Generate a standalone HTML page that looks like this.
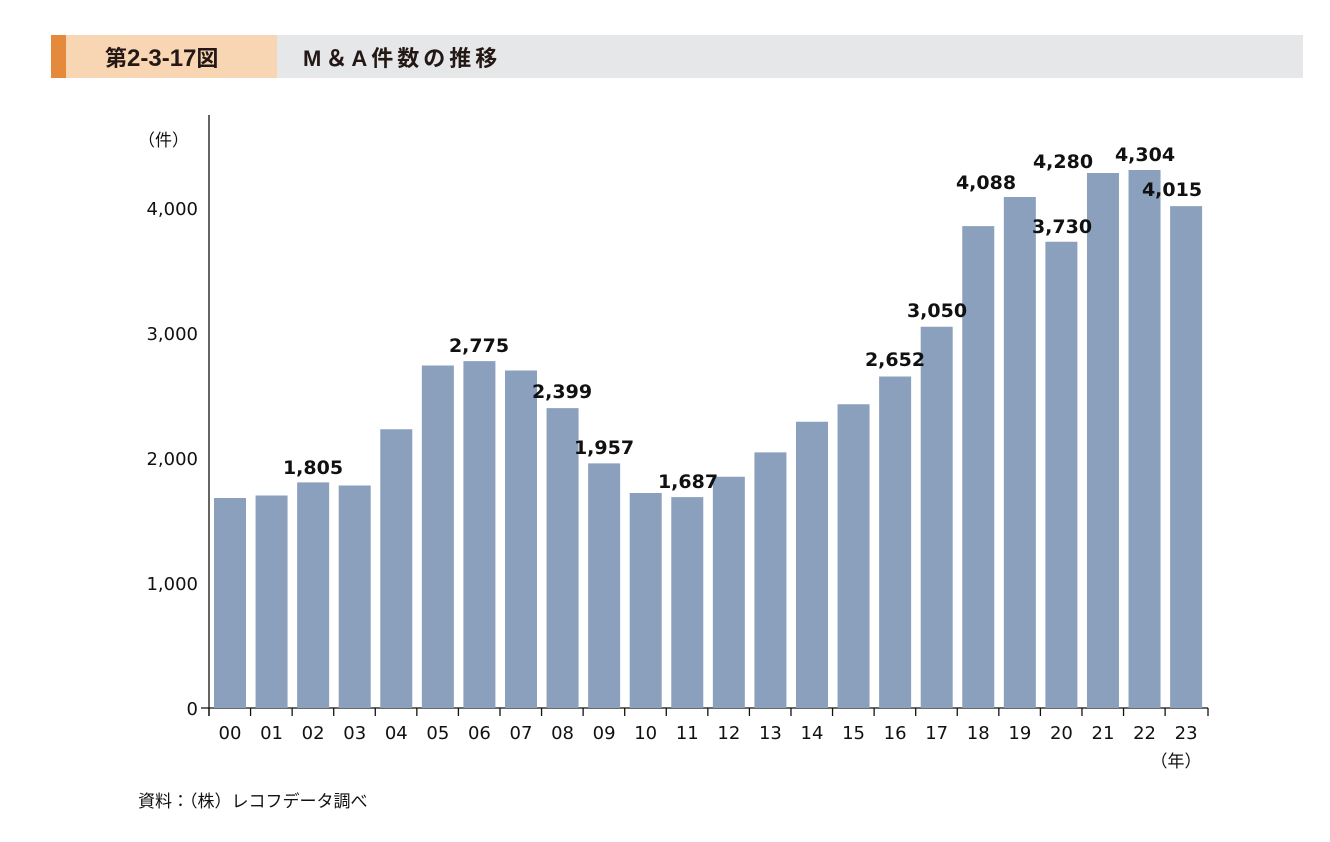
<!DOCTYPE html>
<html><head><meta charset="utf-8"><style>
body{margin:0;background:#fff;width:1330px;height:838px;overflow:hidden;font-family:"DejaVu Sans","Noto Sans CJK JP",sans-serif}
</style></head><body>
<svg width="1330" height="838" xmlns="http://www.w3.org/2000/svg" font-family="'DejaVu Sans','Noto Sans CJK JP',sans-serif">
<rect x="51" y="35" width="15" height="43" fill="#e5893c"/>
<rect x="66" y="35" width="211" height="43" fill="#f8d5b3"/>
<rect x="277" y="35" width="1026" height="43" fill="#e6e7e9"/>
<text x="105" y="66" font-size="22" font-weight="bold" fill="#231815" font-family="'Liberation Sans','Noto Sans CJK JP',sans-serif">第<tspan font-size="24">2-3-17</tspan>図</text>
<text x="303" y="66" font-size="22" font-weight="bold" fill="#231815" letter-spacing="4" font-family="'Liberation Sans','Noto Sans CJK JP',sans-serif">M＆A件数の推移</text>
<text x="138" y="146" font-size="17" fill="#111" font-family="'Noto Sans CJK JP',sans-serif">（件）</text>
<g font-size="18" fill="#111" text-anchor="end">
<text x="198" y="715">0</text><text x="198" y="590">1,000</text><text x="198" y="465">2,000</text><text x="198" y="340">3,000</text><text x="198" y="215">4,000</text>
</g>
<g stroke="#111" stroke-width="1.3">
<line x1="209" y1="115" x2="209" y2="716"/>
<line x1="201" y1="708" x2="1208" y2="708"/>
</g>
<g id="bars" fill="#8aa0bd"></g>
<g id="ticks" stroke="#111" stroke-width="1.3"></g>
<g id="xl" font-size="18" fill="#111" text-anchor="middle"></g>
<g id="vl" font-size="19" font-weight="bold" fill="#111" text-anchor="middle"></g>
<text x="1176" y="767" font-size="17" fill="#111" text-anchor="middle" font-family="'Noto Sans CJK JP',sans-serif">（年）</text>
<text x="138" y="807" font-size="17" fill="#111" font-family="'Noto Sans CJK JP',sans-serif">資料：（株）レコフデータ調べ</text>
</svg>
<script>
var v=[1680,1700,1805,1780,2230,2740,2775,2700,2399,1957,1720,1687,1850,2045,2290,2430,2652,3050,3855,4088,3730,4280,4304,4015];
var ns="http://www.w3.org/2000/svg";
function el(p,t,a,tx){var e=document.createElementNS(ns,t);for(var k in a)e.setAttribute(k,a[k]);if(tx)e.textContent=tx;document.getElementById(p).appendChild(e);}
var p=41.57;
for(var i=0;i<24;i++){
 var x=214+i*p, h=v[i]*0.125, y=708-h;
 el("bars","rect",{x:x,y:y,width:32,height:h});
 el("xl","text",{x:x+16,y:739},(i<10?"0":"")+i);
 el("ticks","line",{x1:x-5,y1:708,x2:x-5,y2:716});
}
el("ticks","line",{x1:1208,y1:708,x2:1208,y2:716});
var L=[[2,313,474,"1,805"],[6,479,352,"2,775"],[8,562,398,"2,399"],[9,604,454,"1,957"],[11,688,488,"1,687"],[16,895,366,"2,652"],[17,937,317,"3,050"],[18,986,189,"4,088"],[20,1062,233,"3,730"],[21,1063,168,"4,280"],[22,1145,161,"4,304"],[23,1172,196,"4,015"]];
L.forEach(function(a){el("vl","text",{x:a[1],y:a[2]},a[3]);});
</script>
</body></html>
